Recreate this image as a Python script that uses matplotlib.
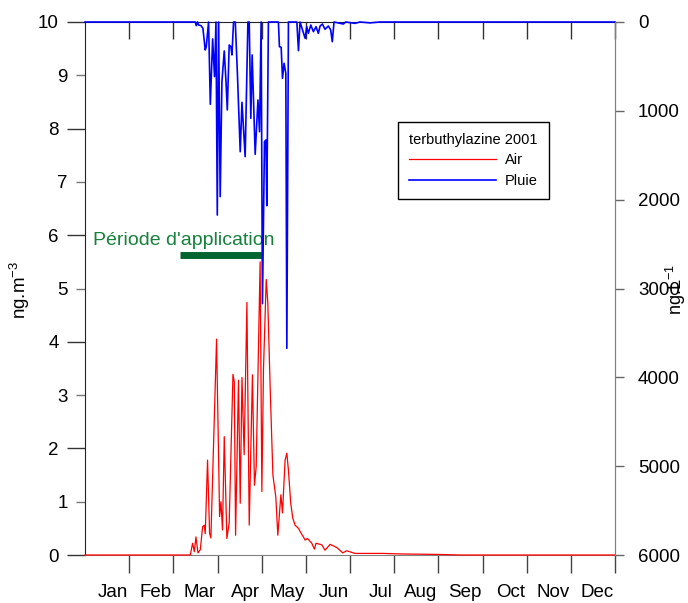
import matplotlib.pyplot as plt

plt.rcParams.update({
    "font.family": ["Liberation Sans", "DejaVu Sans"],
    "mathtext.default": "regular",
})

months = ["Jan", "Feb", "Mar", "Apr", "May", "Jun",
          "Jul", "Aug", "Sep", "Oct", "Nov", "Dec"]

# air concentration (ng/m3), day of year -> value
air_day = [0, 72.5, 74.1, 75.3, 76.4, 77.8, 79.4, 81.0, 82.1, 82.8, 84.4,
           85.8, 86.7, 90.6, 92.7, 93.6, 94.7, 95.9, 97.7, 99.3, 101.9,
           102.8, 103.7, 105.7, 106.9, 108.1, 109.6, 111.5, 113.1, 115.3,
           116.7, 117.9, 120.6, 121.8, 122.9, 124.8, 125.9, 127.5, 129.4,
           131.4, 132.8, 134.9, 136.0, 137.8, 139.0, 140.1, 141.7, 143.1,
           144.7, 147.0, 148.8, 150.4, 151.6, 153.2, 156.2, 158.0, 159.1,
           161.9, 163.1, 165.3, 168.8, 173.4, 177.5, 180.2, 185.9, 196.3,
           205.2, 216.9, 244.4, 258.1, 365]
air_val = [0, 0, 0.22, 0.06, 0.34, 0.04, 0.10, 0.53, 0.56, 0.40, 1.78,
           0.41, 0.32, 4.05, 0.72, 1.00, 0.47, 2.22, 0.31, 0.60, 3.39,
           3.25, 0.37, 3.28, 0.97, 3.33, 1.88, 4.74, 0.56, 3.38,
           1.31, 1.66, 5.50, 1.19, 3.47, 5.17, 4.73, 3.16, 1.50,
           1.09, 0.37, 1.13, 0.79, 1.78, 1.91, 1.59, 0.97, 0.69,
           0.56, 0.50, 0.41, 0.34, 0.28, 0.31, 0.22, 0.11, 0.22,
           0.20, 0.19, 0.09, 0.20, 0.14, 0.04, 0.08, 0.03, 0.03,
           0.03, 0.02, 0.01, 0.0, 0]

# rain concentration (ng/L), day of year -> value
rain_day = [0, 76.0, 76.6, 77.5, 78.2, 79.9, 81.2, 82.8, 83.5, 85.1, 86.3,
            87.9, 89.2, 90.2, 91.1, 92.0, 93.1, 94.3, 95.9, 97.1, 98.0,
            99.3, 100.5, 101.2, 102.3, 103.5, 105.0, 106.9, 108.1, 110.3,
            112.2, 113.1, 114.2, 115.1, 117.2, 119.1, 120.2, 121.3, 122.2,
            123.6, 124.6, 125.2, 126.3, 133.2, 133.9, 135.1, 136.0, 137.1,
            138.3, 139.0, 140.1, 145.9, 147.0, 148.1, 151.6, 152.7, 153.8,
            155.5, 157.3, 159.1, 160.7, 161.9, 163.5, 165.3, 167.6, 169.2,
            170.3, 171.5, 177.9, 179.5, 185.9, 189.4, 196.3, 203.1, 365]
rain_val = [0, 0, 41, 0, 34, 41, 71, 315, 278, 0, 927,
            191, 615, 0, 2173, 0, 1966, 672, 326, 672, 990,
            259, 278, 371, 0, 0, 597, 1460, 904, 1516,
            0, 0, 1084, 371, 1490, 878, 1235, 0, 3170,
            1347, 1328, 2068, 0, 0, 278, 285, 634, 465,
            578, 3673, 0, 0, 323, 0, 184, 53, 128,
            34, 109, 53, 128, 45, 23, 82, 45, 90,
            222, 0, 23, 0, 15, 0, 10, 0, 0]

app_period = [65.6, 122.0]
app_level = 5.63

W, H = 688, 603
fig = plt.figure(figsize=(W / 100, H / 100), dpi=100)
ax = fig.add_axes([85 / W, 1 - 555 / H, 530 / W, 533 / H])

line_air, = ax.plot(air_day, air_val, color="red", lw=0.9, clip_on=False, zorder=3)
ax.plot(app_period, [app_level, app_level], color="#046530", lw=5,
        solid_capstyle="butt", zorder=2)
ax.text(5.8, 5.9, "Période d'application", color="#16803c", fontsize=14,
        ha="left", va="center")
ax.set_xlim(0, 365)
ax.set_ylim(0, 10)

month_ends = [(i + 1) * 365 / 12 for i in range(12)]
ax.set_xticks(month_ends)
ax.set_xticklabels([])
ax.tick_params(axis="x", direction="out", length=13, color="#444444", width=1)
for m, xe in zip(months, month_ends):
    ax.text(xe - 1, -0.071, m, transform=ax.get_xaxis_transform(),
            ha="right", va="center", fontsize=13.5)

top = ax.secondary_xaxis("top")
top.set_xticks(month_ends)
top.set_xticklabels([])
top.tick_params(direction="in", length=12, color="#333333", width=1)
top.spines["top"].set_visible(False)

ax.set_yticks([0, 2, 4, 6, 8, 10])
ax.set_yticks([1, 3, 5, 7, 9], minor=True)
ax.set_yticklabels(["0", "2", "4", "6", "8", "10"], fontsize=13.5)
ax.set_yticklabels(["1", "3", "5", "7", "9"], minor=True, fontsize=13.5)
ax.tick_params(axis="y", which="major", direction="out", length=13, pad=6,
               color="#333333", width=1)
ax.tick_params(axis="y", which="minor", direction="out", length=6.5, pad=6,
               color="#777777", width=1)

ax.spines["left"].set_color("#222222")
ax.spines["top"].set_color("#222222")
ax.spines["bottom"].set_color("#808080")
ax.spines["right"].set_color("#808080")

ax2 = ax.twinx()
line_rain, = ax2.plot(rain_day, rain_val, color="blue", lw=1.2, clip_on=False)
ax2.set_ylim(6000, 0)
ax2.set_yticks(range(0, 7000, 1000))
ax2.set_yticklabels([str(v) for v in range(0, 7000, 1000)], fontsize=13.5)
ax2.tick_params(axis="y", direction="out", length=6.5, pad=10,
                color="#666666", width=1)
ax2.spines["right"].set_color("#808080")
for s in ("left", "top", "bottom"):
    ax2.spines[s].set_visible(False)

fig.text(20 / W, 1 - 290 / H, "ng.m$^{-3}$", rotation=90, ha="center",
         va="center", fontsize=13.5)
fig.text(676 / W, 1 - 290 / H, "ng.L$^{-1}$", rotation=90, ha="center",
         va="center", fontsize=13)

leg = ax2.legend([line_air, line_rain], ["Air", "Pluie"],
                 title="terbuthylazine 2001", alignment="left",
                 loc="upper left", bbox_to_anchor=(398 / W, 1 - 122 / H),
                 bbox_transform=fig.transFigure, borderaxespad=0,
                 fontsize=10.5, title_fontsize=10.5, handlelength=6.0,
                 handletextpad=0.6, labelspacing=0.45, borderpad=0.75,
                 fancybox=False, framealpha=1, edgecolor="black")
leg.get_frame().set_linewidth(1)

fig.savefig("out.png", dpi=100)
